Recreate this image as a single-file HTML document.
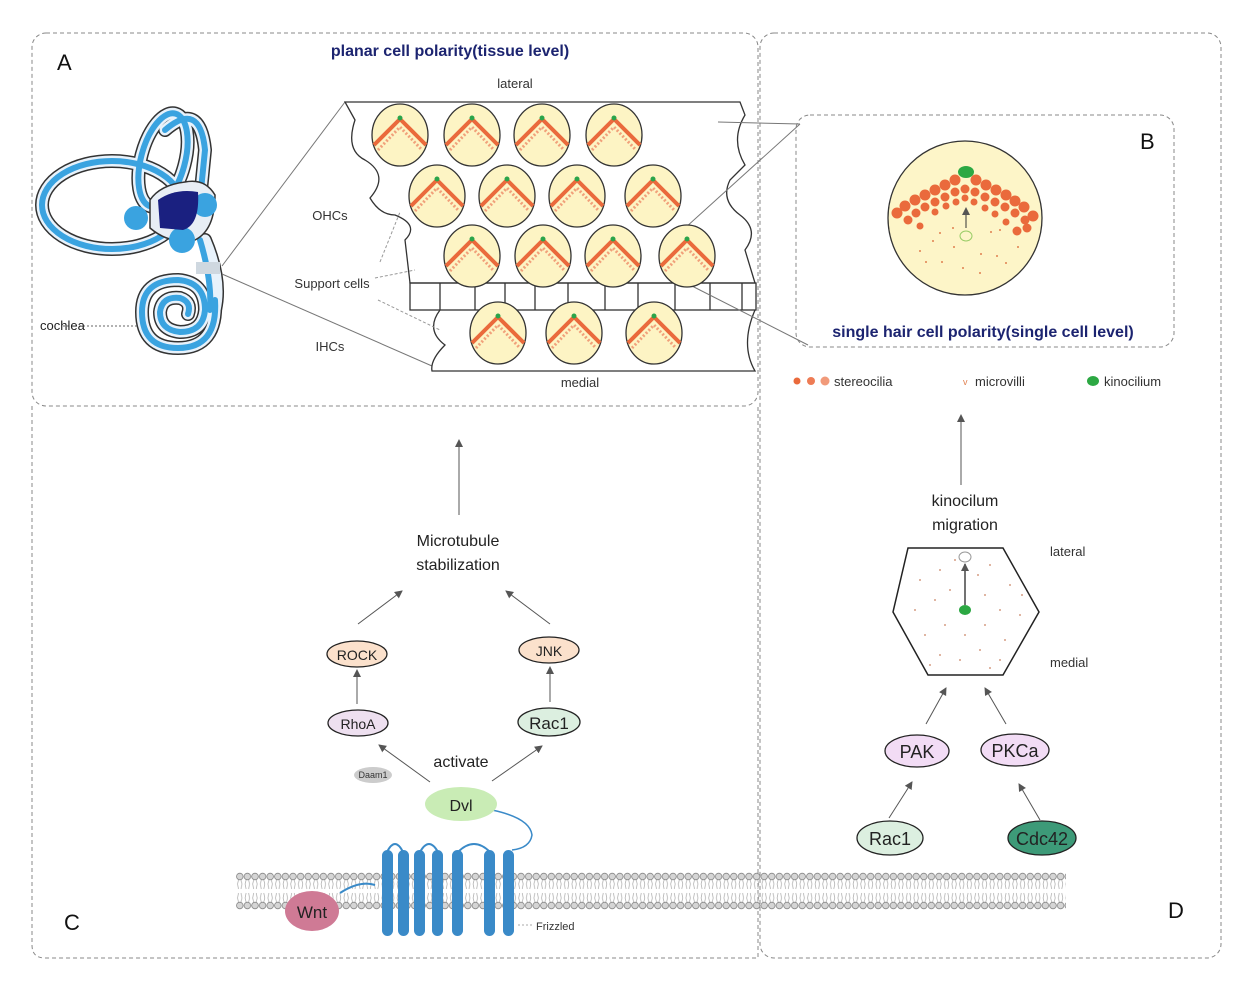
<!DOCTYPE html>
<html><head><meta charset="utf-8"><style>
html,body{margin:0;padding:0;background:#fff;}
svg{display:block;font-family:"Liberation Sans",Arial,sans-serif;}
</style></head><body>
<svg width="1260" height="988" viewBox="0 0 1260 988" xmlns="http://www.w3.org/2000/svg">
<defs>
<marker id="ar" markerWidth="8" markerHeight="8" refX="7" refY="4" orient="auto" markerUnits="userSpaceOnUse"><path d="M0,0 L8,4 L0,8 Z" fill="#555"/></marker>
<g id="hc">
 <ellipse cx="0" cy="0" rx="28" ry="31" fill="#fdf4c4" stroke="#333" stroke-width="1.3"/>
 <path d="M-26,10 L0,-16 L26,10" fill="none" stroke="#ea6a3c" stroke-width="4" stroke-linejoin="round"/>
 <path d="M-22,15 L0,-8 L22,15" fill="none" stroke="#f1a07a" stroke-width="3" stroke-dasharray="2 2"/>
 <circle cx="0" cy="-17" r="2.5" fill="#2aa44a"/>
</g>
<pattern id="mem" x="236" y="872" width="7.6" height="38" patternUnits="userSpaceOnUse">
 <circle cx="3.8" cy="4.5" r="3.3" fill="#d5d5d5" stroke="#888" stroke-width="0.8"/>
 <path d="M2.5,8 L1.5,12 L2.5,17 M5,8 L6,12 L5,17 M2.5,21 L1.5,26 L2.5,30 M5,21 L6,26 L5,30" fill="none" stroke="#aaa" stroke-width="0.7"/>
 <circle cx="3.8" cy="33.5" r="3.3" fill="#d5d5d5" stroke="#888" stroke-width="0.8"/>
</pattern>
</defs>

<rect x="32" y="33" width="726" height="373" rx="14" fill="none" stroke="#888" stroke-width="1" stroke-dasharray="4 3"/>
<path d="M32,406 L32,945 Q32,958 45,958 L758,958 L758,406" fill="none" stroke="#888" stroke-dasharray="4 3"/>
<rect x="760" y="33" width="461" height="925" rx="14" fill="none" stroke="#888" stroke-dasharray="4 3"/>
<rect x="796" y="115" width="378" height="232" rx="14" fill="none" stroke="#888" stroke-dasharray="4 3"/>

<text x="57" y="70" font-size="22" fill="#111">A</text>
<text x="1140" y="149" font-size="22" fill="#111">B</text>
<text x="64" y="930" font-size="22" fill="#111">C</text>
<text x="1168" y="918" font-size="22" fill="#111">D</text>

<text x="450" y="56" font-size="16" font-weight="bold" fill="#1c2470" text-anchor="middle">planar cell polarity(tissue level)</text>
<text x="983" y="337" font-size="16" font-weight="bold" fill="#1c2470" text-anchor="middle">single hair cell polarity(single cell level)</text>

<g fill="none" stroke-linecap="round">
 <g stroke="#333" stroke-width="14">
  <ellipse cx="112" cy="205" rx="70" ry="44"/>
  <ellipse cx="163" cy="160" rx="22" ry="48" transform="rotate(15 163 160)"/>
  <path d="M165,130 Q200,100 205,150 L200,200"/>
  <path d="M205,240 Q222,280 215,310"/>
  <path d="M215,300 Q218,348 178,348 Q142,348 142,312 Q142,280 178,280 Q205,282 205,310 Q203,332 180,332 Q160,330 160,312 Q162,296 180,298 Q192,302 188,314"/>
 </g>
 <g stroke="#e8f2fb" stroke-width="11">
  <ellipse cx="112" cy="205" rx="70" ry="44"/>
  <ellipse cx="163" cy="160" rx="22" ry="48" transform="rotate(15 163 160)"/>
  <path d="M165,130 Q200,100 205,150 L200,200"/>
  <path d="M205,240 Q222,280 215,310"/>
  <path d="M215,300 Q218,348 178,348 Q142,348 142,312 Q142,280 178,280 Q205,282 205,310 Q203,332 180,332 Q160,330 160,312 Q162,296 180,298 Q192,302 188,314"/>
 </g>
 <g stroke="#3aa3e0" stroke-width="6">
  <ellipse cx="112" cy="205" rx="70" ry="44"/>
  <ellipse cx="163" cy="160" rx="22" ry="48" transform="rotate(15 163 160)"/>
  <path d="M165,130 Q200,100 205,150 L200,200"/>
  <path d="M200,240 Q212,280 210,310"/>
  <path d="M215,300 Q218,348 178,348 Q142,348 142,312 Q142,280 178,280 Q205,282 205,310 Q203,332 180,332 Q160,330 160,312 Q162,296 180,298 Q192,302 188,314"/>
 </g>
</g>
<path d="M150,200 Q160,185 185,182 Q205,178 215,195 Q215,230 195,240 Q170,245 150,228 Z" fill="#e8eef5" stroke="#333" stroke-width="1.5"/>
<circle cx="136" cy="218" r="12" fill="#3aa3e0"/>
<circle cx="205" cy="205" r="12" fill="#3aa3e0"/>
<circle cx="182" cy="240" r="13" fill="#3aa3e0"/>
<path d="M158,200 Q175,188 198,192 Q200,225 183,230 L160,228 Z" fill="#1a2080"/>
<rect x="196" y="262" width="24" height="12" fill="#cfd8e0"/>
<line x1="63" y1="326" x2="138" y2="326" stroke="#666" stroke-dasharray="2 2"/>
<text x="40" y="330" font-size="13" fill="#222">cochlea</text>
<line x1="222" y1="266" x2="345" y2="102" stroke="#777"/>
<line x1="222" y1="274" x2="432" y2="366" stroke="#777"/>

<path d="M345,102 L740,102 L745,115 Q730,140 745,165 L730,180 Q720,200 740,215 Q760,230 745,250 L755,283 L410,283 L405,240 Q420,225 395,215 Q380,215 370,198 Q390,175 365,160 Q345,150 355,120 Z" fill="none" stroke="#333" stroke-width="1.3"/>
<rect x="410" y="283" width="346" height="27" fill="none" stroke="#333" stroke-width="1.3"/>
<g stroke="#333" stroke-width="1.3">
<line x1="440" y1="283" x2="440" y2="310"/><line x1="475" y1="283" x2="475" y2="310"/><line x1="505" y1="283" x2="505" y2="310"/><line x1="535" y1="283" x2="535" y2="310"/><line x1="568" y1="283" x2="568" y2="310"/><line x1="605" y1="283" x2="605" y2="310"/><line x1="638" y1="283" x2="638" y2="310"/><line x1="675" y1="283" x2="675" y2="310"/><line x1="710" y1="283" x2="710" y2="310"/><line x1="742" y1="283" x2="742" y2="310"/>
</g>
<path d="M440,310 Q425,330 445,345 Q430,360 432,371 L755,371 Q740,345 755,310" fill="none" stroke="#333" stroke-width="1.3"/>
<line x1="718" y1="122" x2="800" y2="124" stroke="#777"/>
<line x1="685" y1="228" x2="800" y2="124" stroke="#777"/>
<line x1="690" y1="285" x2="808" y2="345" stroke="#777"/>
<use href="#hc" x="400" y="135"/><use href="#hc" x="472" y="135"/><use href="#hc" x="542" y="135"/><use href="#hc" x="614" y="135"/>
<use href="#hc" x="437" y="196"/><use href="#hc" x="507" y="196"/><use href="#hc" x="577" y="196"/><use href="#hc" x="653" y="196"/>
<use href="#hc" x="472" y="256"/><use href="#hc" x="543" y="256"/><use href="#hc" x="613" y="256"/><use href="#hc" x="687" y="256"/>
<use href="#hc" x="498" y="333"/><use href="#hc" x="574" y="333"/><use href="#hc" x="654" y="333"/>
<text x="515" y="88" font-size="13" fill="#333" text-anchor="middle">lateral</text>
<text x="580" y="387" font-size="13" fill="#333" text-anchor="middle">medial</text>
<text x="330" y="220" font-size="13" fill="#333" text-anchor="middle">OHCs</text>
<text x="332" y="288" font-size="13" fill="#333" text-anchor="middle">Support cells</text>
<text x="330" y="351" font-size="13" fill="#333" text-anchor="middle">IHCs</text>
<g stroke="#999" stroke-dasharray="3 2"><line x1="375" y1="278" x2="415" y2="270"/><line x1="378" y1="300" x2="440" y2="330"/><line x1="380" y1="262" x2="400" y2="212"/></g>

<circle cx="965" cy="218" r="77" fill="#fdf5c8" stroke="#333" stroke-width="1.3"/>
<g fill="#ea6a3c">
<circle cx="955" cy="180" r="5.5"/><circle cx="945" cy="185" r="5.5"/><circle cx="935" cy="190" r="5.5"/><circle cx="925" cy="195" r="5.5"/><circle cx="915" cy="200" r="5.5"/><circle cx="905" cy="206" r="5.5"/><circle cx="897" cy="213" r="5.5"/>
<circle cx="976" cy="180" r="5.5"/><circle cx="986" cy="185" r="5.5"/><circle cx="996" cy="190" r="5.5"/><circle cx="1006" cy="195" r="5.5"/><circle cx="1015" cy="201" r="5.5"/><circle cx="1024" cy="207" r="5.5"/><circle cx="1033" cy="216" r="5.5"/>
<circle cx="965" cy="189" r="4.5"/><circle cx="955" cy="192" r="4.5"/><circle cx="945" cy="197" r="4.5"/><circle cx="935" cy="202" r="4.5"/><circle cx="925" cy="207" r="4.5"/><circle cx="916" cy="213" r="4.5"/><circle cx="908" cy="220" r="4.5"/>
<circle cx="975" cy="192" r="4.5"/><circle cx="985" cy="197" r="4.5"/><circle cx="995" cy="202" r="4.5"/><circle cx="1005" cy="207" r="4.5"/><circle cx="1015" cy="213" r="4.5"/><circle cx="1025" cy="220" r="4.5"/><circle cx="1027" cy="228" r="4.5"/><circle cx="1017" cy="231" r="4.5"/>
<circle cx="965" cy="198" r="3.5"/><circle cx="956" cy="202" r="3.5"/><circle cx="946" cy="206" r="3.5"/><circle cx="935" cy="212" r="3.5"/><circle cx="920" cy="226" r="3.5"/><circle cx="974" cy="202" r="3.5"/><circle cx="985" cy="208" r="3.5"/><circle cx="995" cy="214" r="3.5"/><circle cx="1006" cy="222" r="3.5"/>
</g>
<g fill="#e08050">
<circle cx="933" cy="241" r="1"/><circle cx="954" cy="247" r="1"/><circle cx="981" cy="254" r="1"/><circle cx="942" cy="262" r="1"/><circle cx="963" cy="268" r="1"/><circle cx="997" cy="256" r="1"/><circle cx="1018" cy="247" r="1"/><circle cx="1006" cy="263" r="1"/><circle cx="920" cy="251" r="1"/><circle cx="926" cy="262" r="1"/><circle cx="980" cy="273" r="1"/><circle cx="940" cy="233" r="1"/><circle cx="991" cy="232" r="1"/><circle cx="1000" cy="230" r="1"/><circle cx="953" cy="228" r="1"/>
</g>
<ellipse cx="966" cy="172" rx="8" ry="6" fill="#2ca843"/>
<ellipse cx="966" cy="236" rx="6" ry="5" fill="none" stroke="#9c6"/>
<line x1="966" y1="228" x2="966" y2="208" stroke="#333" marker-end="url(#ar)"/>

<circle cx="797" cy="381" r="3.5" fill="#ea6a3c"/><circle cx="811" cy="381" r="4" fill="#ee7c55"/><circle cx="825" cy="381" r="4.5" fill="#f19a7a"/>
<text x="834" y="386" font-size="13" fill="#333">stereocilia</text>
<text x="963" y="385" font-size="9" fill="#e08050">v</text>
<text x="975" y="386" font-size="13" fill="#333">microvilli</text>
<ellipse cx="1093" cy="381" rx="6" ry="5" fill="#2ca843"/>
<text x="1104" y="386" font-size="13" fill="#333">kinocilium</text>

<line x1="961" y1="485" x2="961" y2="415" stroke="#555" marker-end="url(#ar)"/>
<text x="965" y="506" font-size="16" fill="#222" text-anchor="middle">kinocilum</text>
<text x="965" y="530" font-size="16" fill="#222" text-anchor="middle">migration</text>
<polygon points="908,548 1003,548 1039,612 1003,675 928,675 893,612" fill="#fff" stroke="#222" stroke-width="1.5"/>
<g fill="#c98060">
<circle cx="920" cy="580" r="0.9"/><circle cx="940" cy="570" r="0.9"/><circle cx="990" cy="565" r="0.9"/><circle cx="1010" cy="585" r="0.9"/><circle cx="915" cy="610" r="0.9"/><circle cx="935" cy="600" r="0.9"/><circle cx="950" cy="590" r="0.9"/><circle cx="985" cy="595" r="0.9"/><circle cx="1000" cy="610" r="0.9"/><circle cx="1020" cy="615" r="0.9"/><circle cx="925" cy="635" r="0.9"/><circle cx="945" cy="625" r="0.9"/><circle cx="965" cy="635" r="0.9"/><circle cx="985" cy="625" r="0.9"/><circle cx="1005" cy="640" r="0.9"/><circle cx="940" cy="655" r="0.9"/><circle cx="960" cy="660" r="0.9"/><circle cx="980" cy="650" r="0.9"/><circle cx="1000" cy="660" r="0.9"/><circle cx="955" cy="560" r="0.9"/><circle cx="978" cy="575" r="0.9"/><circle cx="930" cy="665" r="0.9"/><circle cx="990" cy="668" r="0.9"/><circle cx="1022" cy="595" r="0.9"/>
</g>
<ellipse cx="965" cy="557" rx="6" ry="5" fill="#fff" stroke="#999"/>
<line x1="965" y1="605" x2="965" y2="564" stroke="#444" stroke-width="1.5" marker-end="url(#ar)"/>
<ellipse cx="965" cy="610" rx="6" ry="5" fill="#2ca843"/>
<text x="1050" y="556" font-size="13" fill="#333">lateral</text>
<text x="1050" y="667" font-size="13" fill="#333">medial</text>
<line x1="926" y1="724" x2="946" y2="688" stroke="#555" marker-end="url(#ar)"/>
<line x1="1006" y1="724" x2="985" y2="688" stroke="#555" marker-end="url(#ar)"/>
<ellipse cx="917" cy="751" rx="32" ry="16" fill="#f2dcf5" stroke="#222" stroke-width="1.3"/>
<text x="917" y="758" font-size="18" fill="#222" text-anchor="middle">PAK</text>
<ellipse cx="1015" cy="750" rx="34" ry="16" fill="#f2dcf5" stroke="#222" stroke-width="1.3"/>
<text x="1015" y="757" font-size="18" fill="#222" text-anchor="middle">PKCa</text>
<line x1="889" y1="818" x2="912" y2="782" stroke="#555" marker-end="url(#ar)"/>
<line x1="1040" y1="820" x2="1019" y2="784" stroke="#555" marker-end="url(#ar)"/>
<ellipse cx="890" cy="838" rx="33" ry="17" fill="#dcefe0" stroke="#222" stroke-width="1.3"/>
<text x="890" y="845" font-size="18" fill="#222" text-anchor="middle">Rac1</text>
<ellipse cx="1042" cy="838" rx="34" ry="17" fill="#3d9a78" stroke="#222" stroke-width="1.3"/>
<text x="1042" y="845" font-size="18" fill="#222" text-anchor="middle">Cdc42</text>

<line x1="459" y1="515" x2="459" y2="440" stroke="#555" marker-end="url(#ar)"/>
<text x="458" y="546" font-size="16" fill="#222" text-anchor="middle">Microtubule</text>
<text x="458" y="570" font-size="16" fill="#222" text-anchor="middle">stabilization</text>
<line x1="358" y1="624" x2="402" y2="591" stroke="#555" marker-end="url(#ar)"/>
<line x1="550" y1="624" x2="506" y2="591" stroke="#555" marker-end="url(#ar)"/>
<ellipse cx="357" cy="654" rx="30" ry="13" fill="#fbe1cc" stroke="#222" stroke-width="1.3"/>
<text x="357" y="660" font-size="14" fill="#222" text-anchor="middle">ROCK</text>
<ellipse cx="549" cy="650" rx="30" ry="13" fill="#fbe1cc" stroke="#222" stroke-width="1.3"/>
<text x="549" y="656" font-size="14" fill="#222" text-anchor="middle">JNK</text>
<line x1="357" y1="704" x2="357" y2="670" stroke="#555" marker-end="url(#ar)"/>
<line x1="550" y1="702" x2="550" y2="667" stroke="#555" marker-end="url(#ar)"/>
<ellipse cx="358" cy="723" rx="30" ry="13" fill="#eee0f0" stroke="#222" stroke-width="1.3"/>
<text x="358" y="729" font-size="14" fill="#222" text-anchor="middle">RhoA</text>
<ellipse cx="549" cy="722" rx="31" ry="14" fill="#dcefe0" stroke="#222" stroke-width="1.3"/>
<text x="549" y="729" font-size="17" fill="#222" text-anchor="middle">Rac1</text>
<text x="461" y="767" font-size="16" fill="#222" text-anchor="middle">activate</text>
<line x1="430" y1="782" x2="379" y2="745" stroke="#555" marker-end="url(#ar)"/>
<line x1="492" y1="781" x2="542" y2="746" stroke="#555" marker-end="url(#ar)"/>
<ellipse cx="373" cy="775" rx="19" ry="8" fill="#ccc"/>
<text x="373" y="778" font-size="9" fill="#333" text-anchor="middle">Daam1</text>

<rect x="236" y="872" width="830" height="38" fill="url(#mem)"/>
<path d="M492,810 Q530,818 532,835 Q530,848 512,850" fill="none" stroke="#3a8ac8" stroke-width="1.5"/>
<ellipse cx="461" cy="804" rx="36" ry="17" fill="#c9ecb5"/>
<text x="461" y="811" font-size="16" fill="#222" text-anchor="middle">Dvl</text>
<g fill="none" stroke="#3a8ac8" stroke-width="2">
<path d="M387,852 Q395,836 403,852"/><path d="M420,852 Q429,836 438,852"/><path d="M458,852 Q474,836 490,852"/>
<path d="M340,893 Q360,880 375,885"/>
</g>
<g fill="#3a8ac8">
<rect x="382" y="850" width="11" height="86" rx="5.5"/><rect x="398" y="850" width="11" height="86" rx="5.5"/><rect x="414" y="850" width="11" height="86" rx="5.5"/><rect x="432" y="850" width="11" height="86" rx="5.5"/><rect x="452" y="850" width="11" height="86" rx="5.5"/><rect x="484" y="850" width="11" height="86" rx="5.5"/><rect x="503" y="850" width="11" height="86" rx="5.5"/>
</g>
<line x1="518" y1="925" x2="532" y2="925" stroke="#aaa" stroke-dasharray="2 2"/>
<text x="536" y="930" font-size="11" fill="#333">Frizzled</text>
<ellipse cx="312" cy="911" rx="27" ry="20" fill="#cf7a95"/>
<text x="312" y="918" font-size="17" fill="#222" text-anchor="middle">Wnt</text>
</svg>
</body></html>
